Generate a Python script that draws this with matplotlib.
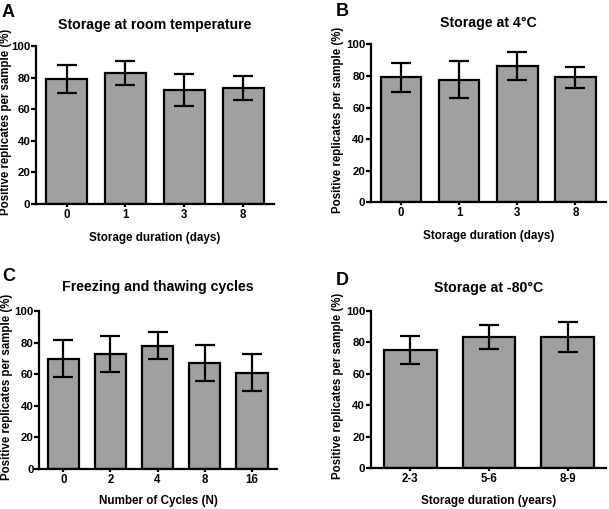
import matplotlib
matplotlib.use("Agg")
import matplotlib.pyplot as plt
import numpy as np

plt.rcParams['font.family'] = ['Liberation Sans', 'DejaVu Sans']
plt.rcParams['font.weight'] = 'bold'

# Panel A: storage at room temperature
a_cats = ["0", "1", "3", "8"]
a_vals = [79.0, 83.0, 72.0, 73.4]
a_err = [9.0, 7.8, 10.0, 7.4]

# Panel B: storage at 4°C
b_cats = ["0", "1", "3", "8"]
b_vals = [79.1, 77.6, 86.1, 79.1]
b_err = [9.2, 11.9, 8.8, 6.8]

# Panel C: freezing and thawing cycles
c_cats = ["0", "2", "4", "8", "16"]
c_vals = [69.8, 72.6, 78.0, 66.9, 60.9]
c_err = [11.8, 11.4, 8.5, 11.5, 11.6]

# Panel D: storage at -80°C
d_cats = ["2-3", "5-6", "8-9"]
d_vals = [75.2, 83.3, 83.3]
d_err = [9.2, 7.6, 9.6]

W, H = 609, 509
fig = plt.figure(figsize=(W / 100, H / 100), dpi=100)

def px_axes(left, right, top, bottom):
    return fig.add_axes([left / W, 1 - bottom / H, (right - left) / W, (bottom - top) / H])

def fx(px):
    return px / W

def fy(py):
    return 1 - py / H

# box, bar width, xlim, letter pos, title y, xlabel y, ylabel x
panels = [
    (a_cats, a_vals, a_err, "Storage at room temperature", "Storage duration (days)", "A",
     (36, 274, 46, 204), 0.70, (-0.52, 3.525), (2, 4), 25, 237.5, 6.5),
    (b_cats, b_vals, b_err, "Storage at 4°C", "Storage duration (days)", "B",
     (370.7, 606, 44.3, 202.3), 0.70, (-0.52, 3.525), (336, 3), 23, 235.5, 338),
    (c_cats, c_vals, c_err, "Freezing and thawing cycles", "Number of Cycles (N)", "C",
     (39.3, 276.7, 311, 469), 0.67, (-0.51, 4.53), (2, 268), 287, 501, 7),
    (d_cats, d_vals, d_err, "Storage at -80°C", "Storage duration (years)", "D",
     (370.7, 606, 311, 468.3), 0.67, (-0.5, 2.485), (336, 272), 288, 501, 338),
]

for (cats, vals, errs, title, xlabel, letter, box, bw, xlim, lpos,
     ty, xly, ylx) in panels:
    ax = px_axes(*box)
    x = np.arange(len(cats))
    ax.bar(x, vals, width=bw, color="#a0a0a0", edgecolor="black", linewidth=1.6, zorder=2)
    ax.errorbar(x, vals, yerr=errs, fmt="none", ecolor="black", elinewidth=1.6,
                capsize=7.5, capthick=1.6, zorder=3)
    ax.set_xlim(*xlim)
    ax.set_ylim(0, 100)
    ax.set_yticks([0, 20, 40, 60, 80, 100])
    ax.set_xticks(x)
    ax.set_xticklabels(cats)
    for s in ["top", "right"]:
        ax.spines[s].set_visible(False)
    for s in ["left", "bottom"]:
        ax.spines[s].set_linewidth(1.6)
    ax.tick_params(axis="y", length=3.5, width=1.6, labelsize=8.2, pad=0.5)
    ax.tick_params(axis="x", length=2, width=1.6, labelsize=8.3, pad=1.5)
    for lab in ax.get_xticklabels() + ax.get_yticklabels():
        lab.set_fontweight("bold")
    cx = (box[0] + box[1]) / 2
    fig.text(fx(cx), fy(ty), title, fontsize=10.2, fontweight="bold", ha="center", va="center")
    fig.text(fx(cx), fy(xly), xlabel, fontsize=8.4, fontweight="bold", ha="center", va="center")
    fig.text(fx(ylx), fy((box[2] + box[3]) / 2 - 3.5), "Positive replicates per sample (%)",
             fontsize=8.3, fontweight="bold", ha="center", va="center", rotation=90)
    fig.text(fx(lpos[0]), fy(lpos[1]), letter, fontsize=13, fontweight="bold",
             ha="left", va="top")

fig.savefig("out.png", dpi=100)
